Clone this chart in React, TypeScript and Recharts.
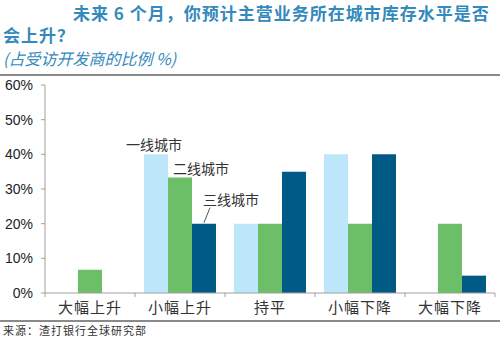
import { BarChart, Bar, XAxis, YAxis, LabelList } from 'recharts';

const categories = ['大幅上升', '小幅上升', '持平', '小幅下降', '大幅下降'];
const tier1 = [0, 40, 20, 40, 0];
const tier2 = [6.7, 33.3, 20, 20, 20];
const tier3 = [0, 20, 35, 40, 5];
const seriesNames = ['一线城市', '二线城市', '三线城市'];
const yTicks = [0, 10, 20, 30, 40, 50, 60];

const data = categories.map((name, i) => ({
  name,
  t1: tier1[i],
  t2: tier2[i],
  t3: tier3[i],
}));

const CJK = '"Noto Sans CJK SC", "Liberation Sans", sans-serif';
const TITLE_BLUE = '#3489bd';
const AXIS_GRAY = '#a0a0a0';

// only the 小幅上升 group carries the series names
const seriesLabel = (series: number) => (props: any) => {
  const { x, y, width, value } = props;
  if (value !== categories[1]) return null;
  const cx = x + width / 2;
  if (series === 0) {
    return (
      <text x={cx - 2} y={y - 4} textAnchor="middle" fontSize={14} fill="#333" fontFamily={CJK}>
        {seriesNames[0]}
      </text>
    );
  }
  if (series === 1) {
    return (
      <text x={cx + 21} y={y - 4} textAnchor="middle" fontSize={14} fill="#333" fontFamily={CJK}>
        {seriesNames[1]}
      </text>
    );
  }
  return (
    <g>
      <line x1={cx + 6} y1={y - 16} x2={cx} y2={y - 1} stroke="#555" strokeWidth={1} />
      <text x={cx + 27} y={y - 19} textAnchor="middle" fontSize={14} fill="#333" fontFamily={CJK}>
        {seriesNames[2]}
      </text>
    </g>
  );
};

const CategoryTick = (props: any) => {
  const { x, y, payload, index } = props;
  const half = payload?.offset || 45;
  return (
    <g>
      <line x1={x - half} y1={y} x2={x - half} y2={y + 4} stroke={AXIS_GRAY} />
      {index === categories.length - 1 && (
        <line x1={x + half} y1={y} x2={x + half} y2={y + 4} stroke={AXIS_GRAY} />
      )}
      <text x={x} y={y + 20} textAnchor="middle" fontSize={15} letterSpacing={1} fill="#333" fontFamily={CJK}>
        {payload.value}
      </text>
    </g>
  );
};

export default function App() {
  return (
    <div style={{ position: 'absolute', left: 0, top: 0, width: 500, height: 338, background: '#fff', overflow: 'hidden' }}>
      <div style={{ position: 'absolute', left: 73, top: 3, fontFamily: CJK, fontSize: 17, fontWeight: 700, letterSpacing: 1, color: TITLE_BLUE, lineHeight: '20px', whiteSpace: 'nowrap' }}>
        未来 6 个月，你预计主营业务所在城市库存水平是否
      </div>
      <div style={{ position: 'absolute', left: 3, top: 25, fontFamily: CJK, fontSize: 17, fontWeight: 700, letterSpacing: 1, color: TITLE_BLUE, lineHeight: '20px', whiteSpace: 'nowrap' }}>
        会上升？
      </div>
      <div style={{ position: 'absolute', left: 3, top: 48, fontFamily: CJK, fontSize: 16, fontStyle: 'italic', color: TITLE_BLUE, lineHeight: '20px', whiteSpace: 'nowrap' }}>
        (占受访开发商的比例 %)
      </div>
      <div style={{ position: 'absolute', left: 0, top: 74, width: 500, height: 2, background: '#8a8a8a' }} />

      <div style={{ position: 'absolute', left: 0, top: 0 }}>
        <BarChart
          width={500}
          height={338}
          data={data}
          margin={{ top: 85, right: 5, left: 0, bottom: 0 }}
          barCategoryGap="10%"
          barGap={0}
        >
          <YAxis
            width={45}
            domain={[0, 60]}
            ticks={yTicks}
            interval={0}
            tickFormatter={(v: number) => `${v}%`}
            axisLine={{ stroke: AXIS_GRAY }}
            tickLine={{ stroke: AXIS_GRAY }}
            tickSize={4}
            tickMargin={8}
            tick={{ fontSize: 14, fill: '#222', fontFamily: '"Liberation Sans", Arial, sans-serif' }}
          />
          <XAxis
            dataKey="name"
            height={45}
            interval={0}
            axisLine={{ stroke: AXIS_GRAY }}
            tickLine={false}
            tickSize={0}
            tickMargin={0}
            tick={<CategoryTick />}
          />
          <Bar dataKey="t1" name={seriesNames[0]} fill="#bde6fb" isAnimationActive={false}>
            <LabelList dataKey="name" content={seriesLabel(0)} />
          </Bar>
          <Bar dataKey="t2" name={seriesNames[1]} fill="#6cbf67" isAnimationActive={false}>
            <LabelList dataKey="name" content={seriesLabel(1)} />
          </Bar>
          <Bar dataKey="t3" name={seriesNames[2]} fill="#005a86" isAnimationActive={false}>
            <LabelList dataKey="name" content={seriesLabel(2)} />
          </Bar>
        </BarChart>
      </div>

      <div style={{ position: 'absolute', left: 0, top: 320, width: 500, height: 2, background: '#8a8a8a' }} />
      <div style={{ position: 'absolute', left: 3, top: 323, fontFamily: CJK, fontSize: 11, color: '#333', lineHeight: '14px', whiteSpace: 'nowrap', letterSpacing: 1 }}>
        来源：渣打银行全球研究部
      </div>
    </div>
  );
}
